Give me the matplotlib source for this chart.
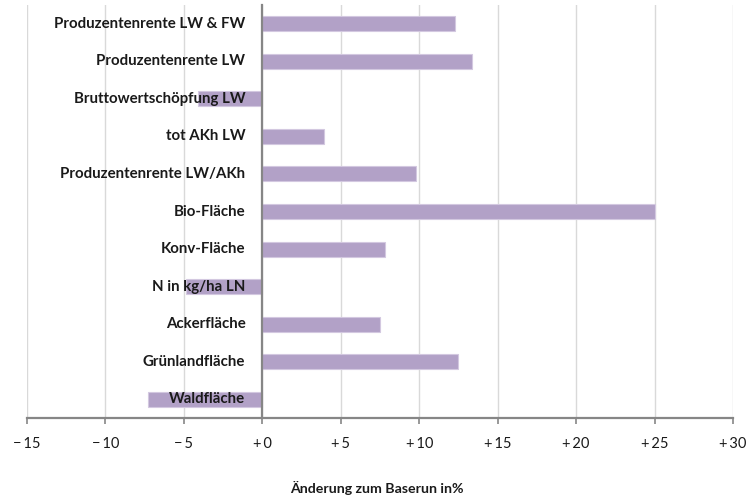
import matplotlib
matplotlib.use("Agg")
import matplotlib.pyplot as plt
from matplotlib.transforms import offset_copy

categories = ["Produzentenrente LW & FW", "Produzentenrente LW", "Bruttowertschöpfung LW",
              "tot AKh LW", "Produzentenrente LW/AKh", "Bio-Fläche", "Konv-Fläche",
              "N in kg/ha LN", "Ackerfläche", "Grünlandfläche", "Waldfläche"]
values = [12.3, 13.35, -4.1, 3.9, 9.8, 25.0, 7.8, -4.85, 7.5, 12.45, -7.3]
xticks = [-15, -10, -5, 0, 5, 10, 15, 20, 25, 30]
xticklabels = ["\u2212\u200915", "\u2212\u200910", "\u2212\u20095", "+\u20090", "+\u20095",
               "+\u200910", "+\u200915", "+\u200920", "+\u200925", "+\u200930"]
xlabel = "Änderung zum Baserun in%"

plt.rcParams['font.family'] = ['Lato', 'DejaVu Sans']

fig = plt.figure(figsize=(7.49, 5.0), dpi=100)
ax = fig.add_axes([27/749, 82/500, (733-27)/749, (418-5)/500])

n = len(categories)
ypos = list(range(n))
ax.barh(ypos, values, height=0.4, color='#b2a1c7', edgecolor='#d3c8e0', linewidth=0.8, zorder=2)

ax.set_xlim(-15, 30)
ax.set_ylim(n - 0.5, -0.5)
ax.set_xticks(xticks)
ax.set_xticklabels(xticklabels, fontsize=10.5, color='#1a1a1a')
ax.set_yticks([])
ax.grid(axis='x', color='#d9d9d9', linewidth=1.0, zorder=0)
ax.set_axisbelow(True)

for s in ['top', 'right']:
    ax.spines[s].set_visible(False)
ax.spines['left'].set_position(('data', 0))
ax.spines['left'].set_color('#868686')
ax.spines['left'].set_linewidth(1.6)
ax.spines['left'].set_zorder(3)
ax.spines['bottom'].set_color('#868686')
ax.spines['bottom'].set_linewidth(1.6)
ax.tick_params(axis='x', direction='out', length=4, width=1.2, color='#868686', pad=10)

trans = offset_copy(ax.transData, fig=fig, x=-17, y=0, units='dots')
for y, lab in zip(ypos, categories):
    ax.text(0, y, lab, transform=trans, ha='right', va='center', fontsize=10.8,
            fontweight='bold', color='#1a1a1a', zorder=5)

fig.text(377/749, 1 - 488/500, xlabel, ha='center', va='center', fontsize=10.2,
         fontweight='bold', color='#1a1a1a')

fig.savefig("out.png", dpi=100)
